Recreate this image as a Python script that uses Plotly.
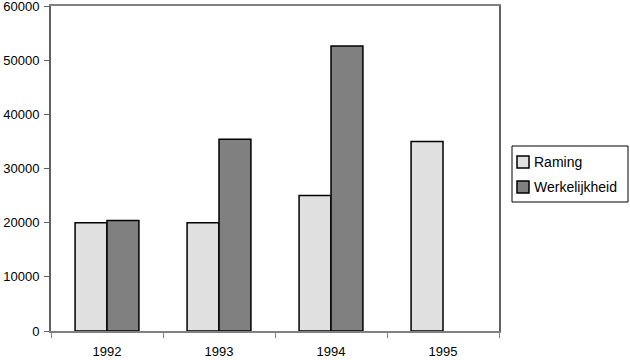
import plotly.graph_objects as go

years = ["1992", "1993", "1994", "1995"]
raming = [20000, 20000, 25000, 35000]
werkelijkheid = [20400, 35400, 52600, None]
y_ticks = [0, 10000, 20000, 30000, 40000, 50000, 60000]
y_ticktext = ["0", "10000", "20000", "30000", "40000", "50000", "60000"]
series_names = ["Raming", "Werkelijkheid"]
series_colors = ["#e0e0e0", "#808080"]

FONT = "Liberation Sans"
W, H = 630, 360
L, R, T, B = 51, 131, 6, 29
PW, PH = W - L - R, H - T - B


def px(x):
    return (x - L) / PW


def py(y):
    return (H - B - y) / PH


fig = go.Figure()
for name, vals, col in zip(series_names, [raming, werkelijkheid], series_colors):
    fig.add_trace(go.Bar(name=name, x=years, y=vals, showlegend=False,
                         marker=dict(color=col, line=dict(color="black", width=1.5))))

# manual legend (box, swatches, labels)
fig.add_shape(type="rect", xref="paper", yref="paper",
              x0=px(512), x1=px(628), y0=py(146), y1=py(202),
              line=dict(color="black", width=1), fillcolor="white")
for i, (name, col) in enumerate(zip(series_names, series_colors)):
    cy = 162 + 25 * i
    fig.add_shape(type="rect", xref="paper", yref="paper",
                  x0=px(517), x1=px(529), y0=py(cy - 6), y1=py(cy + 6),
                  line=dict(color="black", width=1.5), fillcolor=col)
    fig.add_annotation(xref="paper", yref="paper", x=px(532), y=py(cy),
                       xanchor="left", yanchor="middle", showarrow=False,
                       text=name, font=dict(family=FONT, size=14, color="black"))

fig.update_layout(
    width=W, height=H,
    margin=dict(l=L, r=R, t=T, b=B, autoexpand=False),
    paper_bgcolor="white", plot_bgcolor="white",
    barmode="group", bargap=0.43, bargroupgap=0,
    font=dict(family=FONT, size=13, color="black"),
    showlegend=False,
    xaxis=dict(type="category", showline=True, linecolor="#808080", linewidth=2,
               mirror=True, ticks="outside", tickson="boundaries", ticklen=5,
               tickcolor="#808080", showgrid=False, ticklabelstandoff=7,
               automargin=False, ticklabeloverflow="allow"),
    yaxis=dict(range=[0, 60000], tickvals=y_ticks, ticktext=y_ticktext, showline=True,
               linecolor="#606060", linewidth=2, mirror=True, ticks="outside", ticklen=5,
               tickcolor="#606060", showgrid=False, zeroline=False, ticklabelstandoff=2,
               automargin=False, ticklabeloverflow="allow"),
)
fig.write_html("out.html")
